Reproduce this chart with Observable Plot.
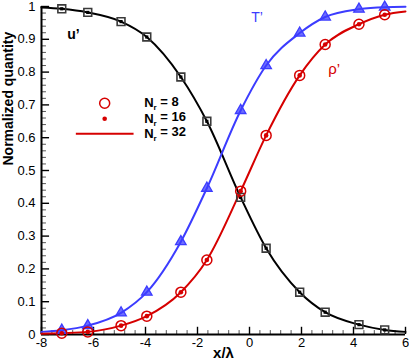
<!DOCTYPE html>
<html><head><meta charset="utf-8">
<script src="https://cdn.jsdelivr.net/npm/d3@7"></script>
<script src="https://cdn.jsdelivr.net/npm/@observablehq/plot@0.6"></script>
<style>body{margin:0;background:#fff;} svg{display:block;}</style>
</head><body><div id="chart"></div>
<script>
// marker positions (x/λ) shared by all three series
const xPos = [-7.22, -6.22, -4.94, -3.95, -2.64, -1.64, -0.34, 0.64, 1.93, 2.91, 4.21, 5.2];
const uPrime = [0.993, 0.982, 0.954, 0.907, 0.785, 0.650, 0.418, 0.263, 0.129, 0.068, 0.030, 0.014];
const tPrime = [0.013, 0.027, 0.066, 0.129, 0.283, 0.446, 0.683, 0.820, 0.919, 0.968, 0.992, 0.998];
const rhoPrime = [0.004, 0.008, 0.027, 0.056, 0.129, 0.227, 0.437, 0.607, 0.790, 0.884, 0.946, 0.975];
// curve values at the plot edges x = -8 and x = 6 (N_r = 32 line)
const xEnds = [-8, 6];
const uEnds = [0.997, 0.008];
const tEnds = [0.008, 0.999];
const rhoEnds = [0.002, 0.985];
// ticks
const xMajor = [-8, -6, -4, -2, 0, 2, 4, 6];
const yMajor = [0, 0.1, 0.2, 0.3, 0.4, 0.5, 0.6, 0.7, 0.8, 0.9, 1];
const xMinor = d3.range(-8, 6.0001, 0.4).filter(v => Math.abs(v / 2 - Math.round(v / 2)) > 1e-6);
const yMinor = d3.range(0, 1.0001, 0.02).filter(v => Math.abs(v * 10 - Math.round(v * 10)) > 1e-6);
const legendLabels = ["8", "16", "32"];

const BLUE = "#3c3cff", RED = "#d60000";

const pts = (ys) => xPos.map((x, i) => ({x, y: ys[i]}));
const linePts = (ys, ends) => [{x: xEnds[0], y: ends[0]}, ...pts(ys), {x: xEnds[1], y: ends[1]}];

const U = pts(uPrime), T = pts(tPrime), R = pts(rhoPrime);

const svg = Plot.plot({
  width: 409, height: 363,
  marginLeft: 41, marginRight: 4, marginTop: 6, marginBottom: 29,
  style: {fontFamily: "'Liberation Sans', Arial, sans-serif", fontSize: "13px", background: "white", overflow: "visible", color: "black"},
  x: {domain: [-8, 6]},
  y: {domain: [0, 1]},
  marks: [
    Plot.axisX(xMajor, {tickSize: 0, tickPadding: 3, tickFormat: d => String(d), fontSize: 13, label: null}),
    Plot.axisY(yMajor, {tickSize: 0, tickPadding: 6, tickFormat: d => String(d), fontSize: 13, label: null}),
    // inward tick marks
    Plot.ruleX(xMajor, {x: d => d, y1: 0, y2: 0.022, stroke: "black", strokeWidth: 1.4}),
    Plot.ruleX(xMinor, {x: d => d, y1: 0, y2: 0.012, stroke: "#555", strokeWidth: 1}),
    Plot.ruleY(yMajor, {y: d => d, x1: -8, x2: -7.69, stroke: "black", strokeWidth: 1.4}),
    Plot.ruleY(yMinor, {y: d => d, x1: -8, x2: -7.81, stroke: "#555", strokeWidth: 1}),
    // axis lines
    Plot.ruleY([0], {stroke: "black", strokeWidth: 2}),
    Plot.ruleX([-8], {stroke: "black", strokeWidth: 2}),
    // N_r = 32 lines
    Plot.line(linePts(uPrime, uEnds), {x: "x", y: "y", stroke: "black", strokeWidth: 2, curve: "monotone-x"}),
    Plot.line(linePts(tPrime, tEnds), {x: "x", y: "y", stroke: BLUE, strokeWidth: 2, curve: "monotone-x"}),
    Plot.line(linePts(rhoPrime, rhoEnds), {x: "x", y: "y", stroke: RED, strokeWidth: 2, curve: "monotone-x"}),
    // N_r = 8 markers (hollow) and N_r = 16 markers (filled)
    Plot.dot(U, {x: "x", y: "y", symbol: "square", r: 4.4, stroke: "#3a3a3a", strokeWidth: 1.6, fill: "none"}),
    Plot.dot(U, {x: "x", y: "y", symbol: "square", r: 1.8, fill: "black"}),
    Plot.dot(T, {x: "x", y: "y", symbol: "triangle", r: 3.9, stroke: BLUE, strokeWidth: 1.3, fill: BLUE, fillOpacity: 0.75}),
    Plot.dot(R, {x: "x", y: "y", r: 5, stroke: RED, strokeWidth: 1.5, fill: "none"}),
    Plot.dot(R, {x: "x", y: "y", r: 2.3, fill: RED}),
    // series labels
    Plot.text(["u’"], {x: -6.77, y: 0.915, text: d => d, fill: "black", fontSize: 14, fontWeight: "bold"}),
    Plot.text(["T’"], {x: 0.29, y: 0.966, text: d => d, fill: BLUE, fontSize: 14}),
    Plot.text(["ρ’"], {x: 3.26, y: 0.808, text: d => d, fill: RED, fontSize: 15}),
    // legend
    Plot.dot([0], {x: -5.57, y: 0.705, r: 5, stroke: RED, strokeWidth: 1.5, fill: "none"}),
    Plot.dot([0], {x: -5.57, y: 0.658, r: 2.3, fill: RED}),
    Plot.ruleY([0.612], {x1: -6.66, x2: -4.44, stroke: RED, strokeWidth: 2}),
    Plot.text(legendLabels, {x: -4.05, y: (d, i) => [0.705, 0.658, 0.612][i], text: d => d, textAnchor: "start", fontSize: 13, fontWeight: "bold", className: "leg"}),
    // axis titles
    Plot.text(["x/λ"], {frameAnchor: "bottom", dy: 23, text: d => d, fontSize: 15, fontWeight: "bold"}),
    Plot.text(["Normalized quantity"], {frameAnchor: "left", dx: -33, dy: -5, rotate: -90, text: d => d, fontSize: 14, fontWeight: "bold"})
  ]
});

d3.select(svg).selectAll("g.leg text").each(function () {
  const v = this.textContent;
  const t = d3.select(this);
  t.text(null);
  t.append("tspan").text("N");
  t.append("tspan").attr("dy", "0.35em").attr("font-size", "8px").text("r");
  t.append("tspan").attr("dy", "-0.35em").text(" = " + v);
});

document.getElementById("chart").appendChild(svg);
</script>
</body></html>
